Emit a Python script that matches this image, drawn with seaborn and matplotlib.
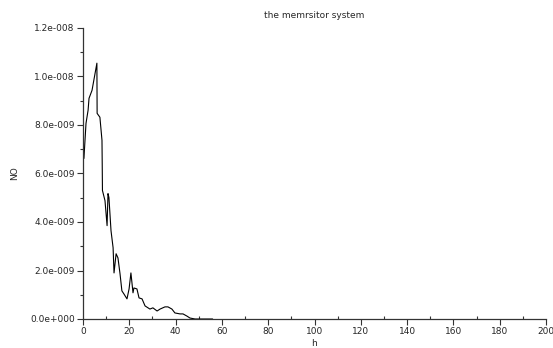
import numpy as np
import pandas as pd
import matplotlib
matplotlib.use("Agg")
import matplotlib.pyplot as plt
from matplotlib.ticker import MultipleLocator, FuncFormatter
import seaborn as sns

# Time axis (h) and NO concentration samples
h = [0.4, 1.3, 2.2, 2.6, 3.9, 6.0, 6.1, 7.3, 8.2, 8.3, 8.4, 9.5, 10.4, 10.8,
     11.2, 12.1, 13.0, 13.4, 14.3, 15.1, 16.0, 16.8, 17.7, 19.0, 19.9, 20.7,
     21.6, 22.0, 23.3, 24.2, 25.5, 26.8, 28.9, 30.2, 32.0, 33.3, 35.4, 36.7,
     38.4, 39.7, 41.9, 43.2, 44.9, 46.2, 48.4, 56.0]
no_e8 = [0.662, 0.807, 0.861, 0.910, 0.943, 1.055, 0.848, 0.832, 0.737, 0.641,
         0.530, 0.488, 0.385, 0.517, 0.501, 0.364, 0.294, 0.190, 0.269, 0.252,
         0.186, 0.116, 0.103, 0.083, 0.124, 0.190, 0.108, 0.128, 0.124, 0.087,
         0.083, 0.054, 0.041, 0.046, 0.033, 0.041, 0.050, 0.050, 0.041, 0.025,
         0.021, 0.021, 0.012, 0.004, 0.0, 0.0]

title = "the memrsitor system"
xlabel = "h"
ylabel = "NO"

df = pd.DataFrame({"h": h, "NO": np.array(no_e8) * 1e-8})

sns.set_style("ticks")
plt.rcParams["font.family"] = ["DejaVu Sans"]

fig = plt.figure(figsize=(5.53, 3.48), dpi=100)
ax = fig.add_axes([83 / 553, 1 - 319 / 348, 463 / 553, 291 / 348])

sns.lineplot(data=df, x="h", y="NO", ax=ax, color="black", linewidth=0.8,
             sort=False, estimator=None)

ax.set_xlim(0, 200)
ax.set_ylim(0, 1.2e-8)
ax.xaxis.set_major_locator(MultipleLocator(20))
ax.xaxis.set_minor_locator(MultipleLocator(10))
ax.yaxis.set_major_locator(MultipleLocator(0.2e-8))
ax.yaxis.set_minor_locator(MultipleLocator(0.1e-8))


def sci_fmt(v, pos):
    mant, exp = f"{v:.1e}".split("e")
    sign = exp[0]
    return f"{mant}e{sign}{abs(int(exp)):03d}"


ax.yaxis.set_major_formatter(FuncFormatter(sci_fmt))

for side in ("top", "right"):
    ax.spines[side].set_visible(False)
for side in ("left", "bottom"):
    ax.spines[side].set_color("#333333")
    ax.spines[side].set_linewidth(0.9)

ax.tick_params(axis="both", which="major", length=4, width=0.8,
               direction="out", labelsize=6.5, color="#333333", pad=2)
ax.tick_params(axis="y", which="minor", length=2, width=0.8,
               direction="out", color="#333333")
ax.tick_params(axis="x", which="minor", length=2, width=0.8,
               direction="in", color="#333333")

ax.set_title(title, fontsize=6.5, pad=7)
ax.set_xlabel(xlabel, fontsize=6.5, labelpad=2)
ax.set_ylabel(ylabel, fontsize=6.5, labelpad=8)

fig.savefig("out.png", dpi=100)
